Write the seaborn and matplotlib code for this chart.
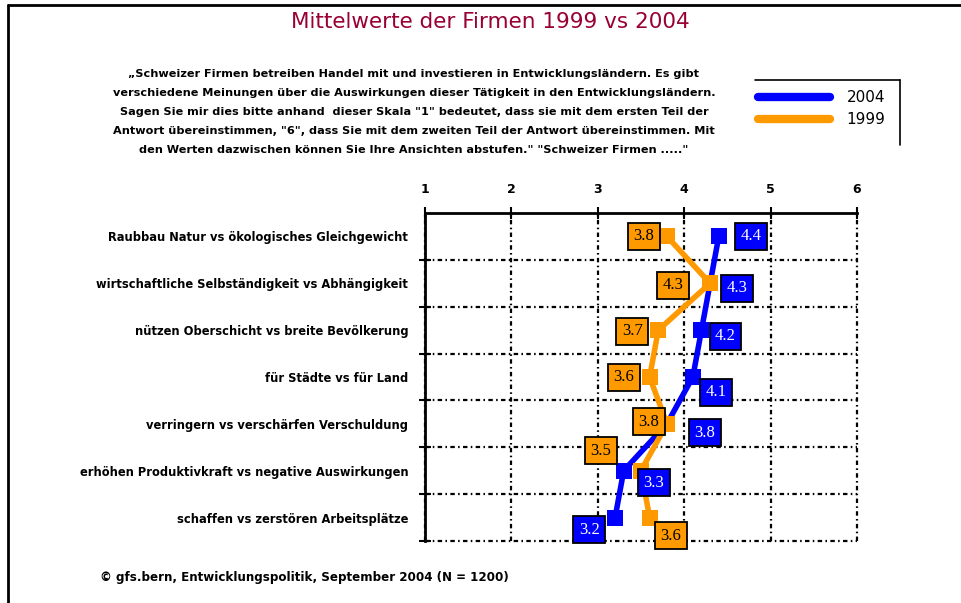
import pandas as pd
import matplotlib
matplotlib.use("Agg")
import matplotlib.pyplot as plt
from matplotlib.lines import Line2D
from matplotlib.ticker import FixedLocator
import seaborn as sns

# --- data ---
kategorien = [
    "Raubbau Natur vs ökologisches Gleichgewicht",
    "wirtschaftliche Selbständigkeit vs Abhängigkeit",
    "nützen Oberschicht vs breite Bevölkerung",
    "für Städte vs für Land",
    "verringern vs verschärfen Verschuldung",
    "erhöhen Produktivkraft vs negative Auswirkungen",
    "schaffen vs zerstören Arbeitsplätze",
]
werte_2004 = [4.4, 4.3, 4.2, 4.1, 3.8, 3.3, 3.2]
werte_1999 = [3.8, 4.3, 3.7, 3.6, 3.8, 3.5, 3.6]
skala = [1, 2, 3, 4, 5, 6]
jahre = ["2004", "1999"]

titel = "Mittelwerte der Firmen 1999 vs 2004"
frage = [
    "„Schweizer Firmen betreiben Handel mit und investieren in Entwicklungsländern. Es gibt",
    "verschiedene Meinungen über die Auswirkungen dieser Tätigkeit in den Entwicklungsländern.",
    "Sagen Sie mir dies bitte anhand  dieser Skala \"1\" bedeutet, dass sie mit dem ersten Teil der",
    "Antwort übereinstimmen, \"6\", dass Sie mit dem zweiten Teil der Antwort übereinstimmen. Mit",
    "den Werten dazwischen können Sie Ihre Ansichten abstufen.\" \"Schweizer Firmen .....\"",
]
quelle = "© gfs.bern, Entwicklungspolitik, September 2004 (N = 1200)"

farben = {"2004": "#0000FF", "1999": "#FF9900"}
text_farben = {"2004": "white", "1999": "black"}
# label offsets in pixels (dx right, dy down)
versatz = {
    "2004": [(32, 0), (27, 5), (24, 6), (23, 15), (38, 9), (30, 12), (-26, 12)],
    "1999": [(-23, 0), (-37, 2), (-26, 1), (-26, 0), (-18, -2), (-40, -20), (21, 18)],
}

df = pd.DataFrame({
    "kategorie": kategorien * 2,
    "pos": list(range(len(kategorien))) * 2,
    "wert": werte_2004 + werte_1999,
    "jahr": ["2004"] * len(kategorien) + ["1999"] * len(kategorien),
})

sns.set_style("white")
plt.rcParams["font.family"] = ["DejaVu Sans"]
plt.rcParams.update({"text.color": "black", "xtick.color": "black",
                     "ytick.color": "black", "axes.labelcolor": "black"})

fig = plt.figure(figsize=(9.61, 6.03), dpi=100)
ax = fig.add_axes([425 / 961, 1 - 541 / 603, 432 / 961, 328 / 603])

sns.lineplot(
    data=df, x="wert", y="pos", hue="jahr", hue_order=jahre, palette=farben,
    orient="y", estimator=None, marker="s", markersize=11.5, markeredgewidth=0,
    linewidth=4, legend=False, ax=ax, zorder=3,
)

for jahr in jahre:
    sub = df[df["jahr"] == jahr].reset_index(drop=True)
    for i, row in sub.iterrows():
        dx, dy = versatz[jahr][i]
        ax.annotate(
            f"{row.wert:.1f}", (row.wert, row.pos), xytext=(dx, -dy),
            textcoords="offset pixels", ha="center", va="center",
            fontsize=12, family="Liberation Serif", color=text_farben[jahr],
            bbox=dict(boxstyle="square,pad=0.33", fc=farben[jahr], ec="black", lw=1.3),
            zorder=5,
        )

ax.set_xlim(1, 6)
ax.set_ylim(len(kategorien) - 0.5, -0.5)
ax.set_xlabel("")
ax.set_ylabel("")

ax.xaxis.tick_top()
ax.set_xticks(skala)
ax.set_xticklabels([str(s) for s in skala], fontweight="bold", fontsize=9)
ax.tick_params(axis="x", direction="inout", length=9, width=1.5, pad=8, top=True, bottom=False)

ax.set_yticks(range(len(kategorien)))
ax.set_yticklabels(kategorien, fontweight="bold", fontsize=8.3)
ax.yaxis.set_minor_locator(FixedLocator([i + 0.5 for i in range(len(kategorien))]))
ax.tick_params(axis="y", which="major", length=0, pad=12)
ax.tick_params(axis="y", which="minor", direction="inout", length=9, width=1.5, left=True)

grid_style = dict(color="black", linewidth=1.6, linestyle=(0, (2, 1.5, 0.7, 1.5)))
ax.grid(False)
ax.xaxis.grid(True, which="major", **grid_style)
ax.yaxis.grid(True, which="minor", **grid_style)
ax.set_axisbelow(True)
for t in ax.xaxis.get_major_ticks() + ax.yaxis.get_minor_ticks():
    t.gridline.set_clip_on(False)

for side in ["right", "bottom"]:
    ax.spines[side].set_visible(False)
for side in ["left", "top"]:
    ax.spines[side].set_visible(True)
    ax.spines[side].set_color("black")
    ax.spines[side].set_linewidth(2)

# title and texts
fig.text(490 / 961, 1 - 22 / 603, titel, ha="center", va="center",
         fontsize=15.5, color="#990033")
for k, zeile in enumerate(frage):
    fig.text(414 / 961, 1 - (74 + 19 * k) / 603, zeile, ha="center", va="center",
             fontsize=8.1, fontweight="bold")
fig.text(100 / 961, 1 - 578 / 603, quelle, ha="left", va="center",
         fontsize=8.6, fontweight="bold")

# legend
handles = [Line2D([], [], color=farben[j], lw=6, solid_capstyle="round") for j in jahre]
leg = ax.legend(handles, jahre, loc="upper left", bbox_to_anchor=(752 / 961, 1 - 84 / 603),
                bbox_transform=fig.transFigure, frameon=False, fontsize=11,
                handlelength=4.7, handletextpad=1.1, labelspacing=0.45, borderaxespad=0)
fig.add_artist(Line2D([755 / 961, 900 / 961], [1 - 80 / 603, 1 - 80 / 603], color="black", lw=1.2))
fig.add_artist(Line2D([900 / 961, 900 / 961], [1 - 80 / 603, 1 - 145 / 603], color="black", lw=1.2))

# figure border
fig.add_artist(Line2D([8 / 961, 1], [1 - 5 / 603, 1 - 5 / 603], color="black", lw=2))
fig.add_artist(Line2D([8 / 961, 8 / 961], [0, 1 - 5 / 603], color="black", lw=2))

fig.savefig("out.png", dpi=100)
